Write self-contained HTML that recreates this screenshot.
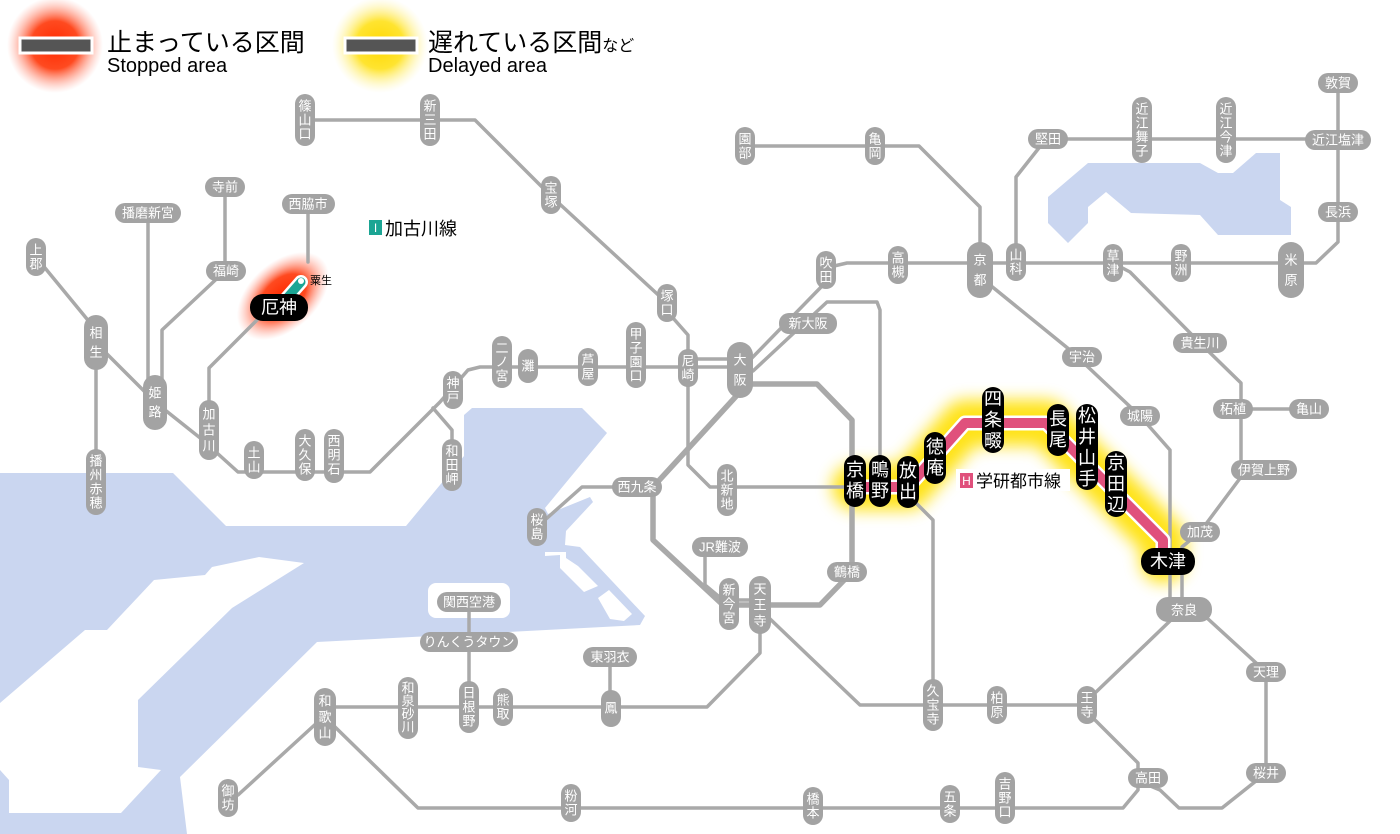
<!DOCTYPE html>
<html><head><meta charset="utf-8"><style>
html,body{margin:0;padding:0;background:#fff;}
svg{display:block;}
text{font-family:"Liberation Sans","Noto Sans CJK JP",sans-serif;}
.ln{fill:none;stroke:#a9a9a9;stroke-width:3.5;stroke-linejoin:round;stroke-linecap:round;}
.lp{fill:none;stroke:#a9a9a9;stroke-width:5.5;stroke-linejoin:round;}
.s rect{fill:#a3a3a3;}
.s text{fill:#fff;font-size:13px;text-anchor:middle;dominant-baseline:central;}
.k rect{fill:#000;}
.k text{fill:#fff;font-size:18px;text-anchor:middle;dominant-baseline:central;}
.nar{font-family:"Liberation Sans Narrow","Liberation Sans",sans-serif;}
</style></head><body>
<svg width="1400" height="834" viewBox="0 0 1400 834" xmlns="http://www.w3.org/2000/svg">
<defs>
<radialGradient id="rg"><stop offset="0" stop-color="#ff2a00"/><stop offset="0.5" stop-color="#ff4a20"/><stop offset="1" stop-color="#ffa090" stop-opacity="0"/></radialGradient>
<radialGradient id="yg"><stop offset="0" stop-color="#ffd800"/><stop offset="0.5" stop-color="#ffe430"/><stop offset="1" stop-color="#fff6b0" stop-opacity="0"/></radialGradient>
<filter id="bl" x="-50%" y="-50%" width="200%" height="200%"><feGaussianBlur stdDeviation="8"/></filter>
</defs>

<!-- water -->
<polygon fill="#cad6f0" points="0,473 173,473 226,526 406,526 464,456 464,415 472,408 582,408 607,433 545,508 548,514 590,497 593,502 566,531 565,545 580,547 645,616 640,625 317,642 180,777 187,834 0,834"/>
<polygon fill="#fff" points="259,557 304,563 232,608 138,700 138,767 161,770 121,813 9,813 9,780 0,770 0,703 85,630 107,630 154,580 205,575 212,567"/>
<polygon fill="#fff" points="545,556 560,555 560,568 584,592 598,586 578,566 566,558 566,552 545,552"/>
<polygon fill="#fff" points="598,598 609,590 632,614 624,621 610,619"/>
<rect x="428" y="583" width="82" height="35" rx="8" fill="#fff"/>
<polygon fill="#cad6f0" points="1048,197 1088,163 1200,163 1218,173 1233,173 1256,153 1280,153 1280,200 1291,207 1291,235 1218,235 1200,215 1131,213 1106,192 1088,207 1088,223 1068,243 1048,223"/>

<!-- glows -->
<polyline points="855,487 908,487 965,423 1046,423 1163,540 1163,560" fill="none" stroke="#ffe000" stroke-width="46" stroke-linejoin="round" stroke-linecap="round" filter="url(#bl)" opacity="0.9"/>
<ellipse cx="283" cy="296" rx="54" ry="34" transform="rotate(-42 283 296)" fill="url(#rg)"/>
<circle cx="55" cy="45" r="48" fill="url(#rg)"/>
<circle cx="380" cy="45" r="48" fill="url(#yg)"/>

<!-- lines -->
<polyline class="ln" points="305,120 475,120 551,196 667,303 673,318 688,335 688,465 710,487 855,487"/>
<polyline class="ln" points="36,257 96,330 96,343 155,402 209,445 217,453 238,472 370,472 440,402 468,370 480,367 740,367"/>
<polyline class="ln" points="688,359 740,359"/>
<polyline class="ln" points="433,408 452,430 452,465"/>
<polyline class="ln" points="96,343 96,482"/>
<polyline class="ln" points="148,213 148,402"/>
<polyline class="ln" points="225,187 225,271 162,330 162,402"/>
<polyline class="ln" points="308,204 308,262"/>
<polyline class="ln" points="257,320 209,368 209,430"/>
<polyline class="ln" points="748,362 825,283 825,270 834,266 847,263 1316,263 1338,242 1338,83"/>
<polyline class="ln" points="753,371 827,302 877,302 880,310 880,480"/>
<polyline class="ln" points="745,146 919,146 980,207 980,260"/>
<polyline class="ln" points="1016,262 1016,177 1046,139 1338,139"/>
<polyline class="lp" points="740,384 817,384 852,420 852,572 820,605 723,605 653,540 653,487 740,392"/>
<polyline class="ln" points="653,487 582,487 537,527"/>
<polyline class="ln" points="990,285 1070,350 1140,416 1170,450 1170,610"/>
<polyline class="ln" points="1113,263 1130,272 1200,343 1241,383 1241,477 1200,532 1182,547 1182,600"/>
<polyline class="ln" points="1241,409 1309,409"/>
<polyline class="ln" points="760,605 760,653 707,707 325,707"/>
<polyline class="ln" points="768,617 860,705 1087,705 1095,693 1171,620"/>
<polyline class="ln" points="1092,717 1138,763 1138,790 1123,808 418,808 333,725"/>
<polyline class="ln" points="1148,785 1160,790 1179,808 1222,808 1266,773 1266,672 1207,618"/>
<polyline class="ln" points="320,720 238,795"/>
<polyline class="ln" points="469,602 469,707"/>
<polyline class="ln" points="610,657 610,707"/>
<polyline class="ln" points="705,547 705,585 723,600 760,600"/>
<polyline class="ln" points="908,495 933,520 933,705"/>

<!-- pink gakken line -->
<polyline points="855,487 908,487 965,423 1046,423 1163,540 1163,560" fill="none" stroke="#fff" stroke-width="15" stroke-linejoin="round"/>
<polyline points="855,487 908,487 965,423 1046,423 1163,540 1163,560" fill="none" stroke="#e0507c" stroke-width="10" stroke-linejoin="round"/>

<!-- kakogawa teal -->
<line x1="279" y1="307" x2="301" y2="282" stroke="#fff" stroke-width="14" stroke-linecap="round"/>
<line x1="279" y1="307" x2="301" y2="282" stroke="#1ba594" stroke-width="9" stroke-linecap="round"/>
<circle cx="301" cy="281" r="3" fill="#fff"/>

<!-- legend -->
<rect x="20" y="38" width="72" height="15" fill="#555" stroke="#fff" stroke-width="3"/>
<text x="107" y="51" font-size="25" fill="#000">止まっている区間</text>
<text class="nar" x="107" y="72" font-size="20" fill="#000">Stopped area</text>
<rect x="345" y="38" width="72" height="15" fill="#555" stroke="#fff" stroke-width="3"/>
<text x="428" y="51" font-size="25" fill="#000">遅れている区間<tspan font-size="16">など</tspan></text>
<text class="nar" x="428" y="72" font-size="20" fill="#000">Delayed area</text>

<!-- line labels -->
<rect x="365" y="217" width="97" height="22" fill="#fff"/>
<rect x="369" y="220" width="13" height="15" fill="#1ba594"/>
<text x="375.5" y="232" font-size="12" fill="#fff" text-anchor="middle">I</text>
<text x="385" y="235" font-size="18" fill="#000">加古川線</text>
<rect x="956" y="469" width="114" height="22" fill="#fff"/>
<rect x="960" y="473" width="13" height="15" fill="#e0507c"/>
<text x="966.5" y="485" font-size="12" fill="#fff" text-anchor="middle">H</text>
<text x="976" y="487" font-size="17" fill="#000">学研都市線</text>
<text x="310" y="284" font-size="11" fill="#000">粟生</text>

<!-- small vertical labels -->
<g class="s">
<rect x="295" y="94" width="20" height="52" rx="10"/><text x="305" y="106">篠</text><text x="305" y="120">山</text><text x="305" y="134">口</text>
<rect x="420" y="94" width="20" height="52" rx="10"/><text x="430" y="106">新</text><text x="430" y="120">三</text><text x="430" y="134">田</text>
<rect x="541" y="176" width="20" height="38" rx="10"/><text x="551" y="188">宝</text><text x="551" y="202">塚</text>
<rect x="657" y="284" width="20" height="38" rx="10"/><text x="667" y="296">塚</text><text x="667" y="310">口</text>
<rect x="678" y="349" width="20" height="38" rx="10"/><text x="688" y="361">尼</text><text x="688" y="375">崎</text>
<rect x="626" y="322" width="20" height="66" rx="10"/><text x="636" y="334">甲</text><text x="636" y="348">子</text><text x="636" y="362">園</text><text x="636" y="376">口</text>
<rect x="578" y="348" width="20" height="38" rx="10"/><text x="588" y="360">芦</text><text x="588" y="374">屋</text>
<rect x="518" y="349" width="20" height="34" rx="10"/><text x="528" y="366">灘</text>
<rect x="492" y="336" width="20" height="52" rx="10"/><text x="502" y="348">二</text><text x="502" y="362">ノ</text><text x="502" y="376">宮</text>
<rect x="443" y="371" width="20" height="38" rx="10"/><text x="453" y="383">神</text><text x="453" y="397">戸</text>
<rect x="442" y="439" width="20" height="52" rx="10"/><text x="452" y="451">和</text><text x="452" y="465">田</text><text x="452" y="479">岬</text>
<rect x="324" y="429" width="20" height="54" rx="10"/><text x="334" y="441">西</text><text x="334" y="455">明</text><text x="334" y="469">石</text>
<rect x="295" y="429" width="20" height="52" rx="10"/><text x="305" y="441">大</text><text x="305" y="455">久</text><text x="305" y="469">保</text>
<rect x="244" y="441" width="20" height="38" rx="10"/><text x="254" y="453">土</text><text x="254" y="467">山</text>
<rect x="199" y="400" width="20" height="60" rx="10"/><text x="209" y="414">加</text><text x="209" y="430">古</text><text x="209" y="446">川</text>
<rect x="26" y="238" width="20" height="38" rx="10"/><text x="36" y="250">上</text><text x="36" y="264">郡</text>
<rect x="86" y="449" width="20" height="66" rx="10"/><text x="96" y="461">播</text><text x="96" y="475">州</text><text x="96" y="489">赤</text><text x="96" y="503">穂</text>
<rect x="816" y="251" width="20" height="38" rx="10"/><text x="826" y="263">吹</text><text x="826" y="277">田</text>
<rect x="888" y="246" width="20" height="38" rx="10"/><text x="898" y="258">高</text><text x="898" y="272">槻</text>
<rect x="1006" y="243" width="20" height="38" rx="10"/><text x="1016" y="255">山</text><text x="1016" y="269">科</text>
<rect x="1103" y="244" width="20" height="38" rx="10"/><text x="1113" y="256">草</text><text x="1113" y="270">津</text>
<rect x="1171" y="244" width="20" height="38" rx="10"/><text x="1181" y="256">野</text><text x="1181" y="270">洲</text>
<rect x="1216" y="97" width="20" height="66" rx="10"/><text x="1226" y="109">近</text><text x="1226" y="123">江</text><text x="1226" y="137">今</text><text x="1226" y="151">津</text>
<rect x="1132" y="97" width="20" height="66" rx="10"/><text x="1142" y="109">近</text><text x="1142" y="123">江</text><text x="1142" y="137">舞</text><text x="1142" y="151">子</text>
<rect x="735" y="127" width="20" height="38" rx="10"/><text x="745" y="139">園</text><text x="745" y="153">部</text>
<rect x="865" y="127" width="20" height="38" rx="10"/><text x="875" y="139">亀</text><text x="875" y="153">岡</text>
<rect x="1077" y="686" width="20" height="38" rx="10"/><text x="1087" y="698">王</text><text x="1087" y="712">寺</text>
<rect x="987" y="686" width="20" height="38" rx="10"/><text x="997" y="698">柏</text><text x="997" y="712">原</text>
<rect x="923" y="679" width="20" height="52" rx="10"/><text x="933" y="691">久</text><text x="933" y="705">宝</text><text x="933" y="719">寺</text>
<rect x="995" y="772" width="20" height="52" rx="10"/><text x="1005" y="784">吉</text><text x="1005" y="798">野</text><text x="1005" y="812">口</text>
<rect x="940" y="785" width="20" height="38" rx="10"/><text x="950" y="797">五</text><text x="950" y="811">条</text>
<rect x="803" y="787" width="20" height="38" rx="10"/><text x="813" y="799">橋</text><text x="813" y="813">本</text>
<rect x="561" y="784" width="20" height="38" rx="10"/><text x="571" y="796">粉</text><text x="571" y="810">河</text>
<rect x="218" y="779" width="20" height="38" rx="10"/><text x="228" y="791">御</text><text x="228" y="805">坊</text>
<rect x="398" y="677" width="20" height="62" rx="10"/><text x="408" y="688" font-size="12">和</text><text x="408" y="701" font-size="12">泉</text><text x="408" y="714" font-size="12">砂</text><text x="408" y="727" font-size="12">川</text>
<rect x="459" y="681" width="20" height="52" rx="10"/><text x="469" y="693">日</text><text x="469" y="707">根</text><text x="469" y="721">野</text>
<rect x="493" y="688" width="20" height="38" rx="10"/><text x="503" y="700">熊</text><text x="503" y="714">取</text>
<rect x="601" y="690" width="20" height="37" rx="10"/><text x="611" y="708">鳳</text>
<rect x="719" y="578" width="20" height="52" rx="10"/><text x="729" y="590">新</text><text x="729" y="604">今</text><text x="729" y="618">宮</text>
<rect x="717" y="464" width="20" height="52" rx="10"/><text x="727" y="476">北</text><text x="727" y="490">新</text><text x="727" y="504">地</text>
<rect x="527" y="508" width="20" height="38" rx="10"/><text x="537" y="520">桜</text><text x="537" y="534">島</text>
<rect x="143" y="375" width="24" height="55" rx="12"/><text x="155" y="393" font-size="17">姫</text><text x="155" y="412" font-size="17">路</text>
<rect x="84" y="315" width="24" height="55" rx="12"/><text x="96" y="333" font-size="17">相</text><text x="96" y="352" font-size="17">生</text>
<rect x="727" y="342" width="26" height="56" rx="13"/><text x="740" y="360" font-size="18">大</text><text x="740" y="380" font-size="18">阪</text>
<rect x="967" y="242" width="26" height="56" rx="13"/><text x="980" y="260" font-size="18">京</text><text x="980" y="280" font-size="18">都</text>
<rect x="1278" y="242" width="26" height="56" rx="13"/><text x="1291" y="260" font-size="18">米</text><text x="1291" y="280" font-size="18">原</text>
<rect x="314" y="688" width="22" height="58" rx="11"/><text x="325" y="701" font-size="15">和</text><text x="325" y="717" font-size="15">歌</text><text x="325" y="733" font-size="15">山</text>
<rect x="749" y="576" width="22" height="58" rx="11"/><text x="760" y="589" font-size="15">天</text><text x="760" y="605" font-size="15">王</text><text x="760" y="621" font-size="15">寺</text>
<rect x="115" y="203" width="66" height="20" rx="10"/><text x="148" y="213">播磨新宮</text>
<rect x="205" y="177" width="40" height="20" rx="10"/><text x="225" y="187">寺前</text>
<rect x="206" y="261" width="40" height="20" rx="10"/><text x="226" y="271">福崎</text>
<rect x="282" y="194" width="53" height="20" rx="10"/><text x="308" y="204">西脇市</text>
<rect x="779" y="313" width="58" height="21" rx="10"/><text x="808" y="323.5" font-size="15">新大阪</text>
<rect x="1318" y="202" width="40" height="20" rx="10"/><text x="1338" y="212">長浜</text>
<rect x="1305" y="130" width="66" height="20" rx="10"/><text x="1338" y="140">近江塩津</text>
<rect x="1318" y="73" width="40" height="20" rx="10"/><text x="1338" y="83">敦賀</text>
<rect x="1028" y="129" width="40" height="20" rx="10"/><text x="1048" y="139">堅田</text>
<rect x="1062" y="347" width="40" height="20" rx="10"/><text x="1082" y="357">宇治</text>
<rect x="1120" y="406" width="40" height="20" rx="10"/><text x="1140" y="416">城陽</text>
<rect x="1173" y="333" width="54" height="20" rx="10"/><text x="1200" y="343">貴生川</text>
<rect x="1213" y="399" width="40" height="20" rx="10"/><text x="1233" y="409">柘植</text>
<rect x="1289" y="399" width="40" height="20" rx="10"/><text x="1309" y="409">亀山</text>
<rect x="1231" y="460" width="66" height="20" rx="10"/><text x="1264" y="470">伊賀上野</text>
<rect x="1180" y="522" width="40" height="20" rx="10"/><text x="1200" y="532">加茂</text>
<rect x="1156" y="597" width="56" height="25" rx="12"/><text x="1184" y="610" font-size="17">奈良</text>
<rect x="1246" y="662" width="40" height="20" rx="10"/><text x="1266" y="672">天理</text>
<rect x="1246" y="763" width="40" height="20" rx="10"/><text x="1266" y="773">桜井</text>
<rect x="1128" y="768" width="40" height="20" rx="10"/><text x="1148" y="778">高田</text>
<rect x="583" y="647" width="54" height="20" rx="10"/><text x="610" y="657">東羽衣</text>
<rect x="420" y="632" width="98" height="20" rx="10"/><text x="469" y="642">りんくうタウン</text>
<rect x="437" y="592" width="64" height="20" rx="10"/><text x="469" y="602">関西空港</text>
<rect x="692" y="537" width="56" height="20" rx="10"/><text x="720" y="547">JR難波</text>
<rect x="827" y="562" width="40" height="20" rx="10"/><text x="847" y="572">鶴橋</text>
<rect x="612" y="477" width="50" height="20" rx="10"/><text x="637" y="487">西九条</text>
</g>

<!-- black pills -->
<g class="k">
<rect x="250" y="294" width="58" height="27" rx="13"/><text x="279" y="307.5">厄神</text>
<rect x="1141" y="548" width="54" height="27" rx="13"/><text x="1168" y="561.5">木津</text>
<rect x="844" y="455" width="22" height="52" rx="11"/><text x="855" y="470">京</text><text x="855" y="491">橋</text>
<rect x="869" y="455" width="22" height="52" rx="11"/><text x="880" y="470">鴫</text><text x="880" y="491">野</text>
<rect x="897" y="456" width="22" height="52" rx="11"/><text x="908" y="471">放</text><text x="908" y="492">出</text>
<rect x="924" y="432" width="22" height="52" rx="11"/><text x="935" y="447">徳</text><text x="935" y="468">庵</text>
<rect x="982" y="387" width="22" height="66" rx="11"/><text x="993" y="399">四</text><text x="993" y="420">条</text><text x="993" y="441">畷</text>
<rect x="1047" y="404" width="22" height="52" rx="11"/><text x="1058" y="419">長</text><text x="1058" y="440">尾</text>
<rect x="1076" y="404" width="22" height="86" rx="11"/><text x="1087" y="416">松</text><text x="1087" y="437">井</text><text x="1087" y="458">山</text><text x="1087" y="479">手</text>
<rect x="1105" y="451" width="22" height="66" rx="11"/><text x="1116" y="463">京</text><text x="1116" y="484">田</text><text x="1116" y="505">辺</text>
</g>
</svg>
</body></html>
